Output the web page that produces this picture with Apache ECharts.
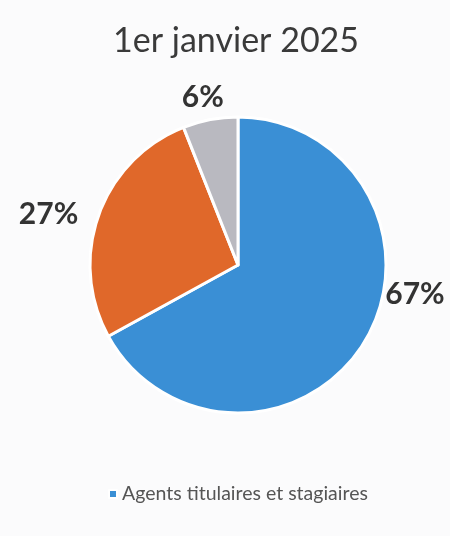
<!DOCTYPE html>
<html>
<head>
<meta charset="utf-8">
<script src="https://cdn.jsdelivr.net/npm/echarts@6/dist/echarts.min.js"></script>
<style>
html,body{margin:0;padding:0;background:#fbfbfc;}
#c{width:450px;height:536px;}
</style>
</head>
<body>
<div id="c"></div>
<script>
var titleText = '1er janvier 2025';
var categories = ['Agents titulaires et stagiaires', 'Contractuels', 'Autres'];
var values = [67, 27, 6];
var colors = ['#3a8fd5', '#e0682a', '#b9b9c0'];
var legendItems = ['Agents titulaires et stagiaires'];
var labelShift = [[8, -50], [-8, 2], [20, -14]];

var chart = echarts.init(document.getElementById('c'));
chart.setOption({
  backgroundColor: '#fbfbfc',
  animation: false,
  title: {
    text: titleText, left: 108, top: 19,
    textStyle: {fontFamily: 'Lato', fontWeight: 'normal', fontSize: 34, color: '#3a3a3a'}
  },
  legend: {
    data: legendItems, bottom: 27, left: 103,
    icon: 'rect', itemWidth: 8, itemHeight: 8, itemGap: 7,
    textStyle: {fontFamily: 'Lato', fontSize: 19.5, color: '#555'}
  },
  series: [{
    type: 'pie',
    center: [238, 265],
    radius: [0, 148],
    startAngle: 90,
    clockwise: true,
    itemStyle: {borderColor: '#ffffff', borderWidth: 3},
    label: {
      show: true, position: 'outside',
      formatter: function (p) { return p.value + '%'; },
      fontFamily: 'Lato', fontWeight: 'bold', fontSize: 30, color: '#333'
    },
    labelLine: {show: false, length: 8, length2: 0},
    labelLayout: function (p) {
      var s = labelShift[p.dataIndex];
      return {dx: s[0], dy: s[1]};
    },
    data: categories.map(function (n, i) {
      return {name: n, value: values[i], itemStyle: {color: colors[i]}};
    })
  }]
});
</script>
</body>
</html>
